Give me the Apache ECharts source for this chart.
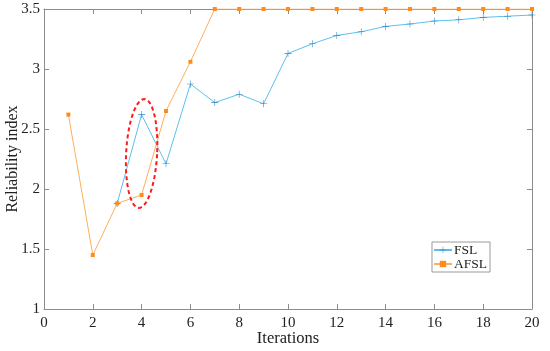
<!DOCTYPE html>
<html>
<head>
<meta charset="utf-8">
<script src="https://cdn.jsdelivr.net/npm/echarts@6/dist/echarts.min.js"></script>
<style>html,body{margin:0;padding:0;background:#fff}#c{width:550px;height:351px}</style>
</head>
<body>
<div id="c"></div>
<script>
const iterations = [1,2,3,4,5,6,7,8,9,10,11,12,13,14,15,16,17,18,19,20];
const fslValues = [null,null,1.88,2.62,2.21,2.875,2.72,2.79,2.71,3.13,3.21,3.28,3.31,3.355,3.375,3.40,3.41,3.43,3.44,3.45];
const afslValues = [2.62,1.45,1.88,1.95,2.65,3.06,3.5,3.5,3.5,3.5,3.5,3.5,3.5,3.5,3.5,3.5,3.5,3.5,3.5,3.5];
const xTicks = [0,2,4,6,8,10,12,14,16,18,20];
const yTicks = [1,1.5,2,2.5,3,3.5];
const highlight = {x: 4, y: 2.296, rx: 0.635, ry: 0.454};

const FONT = 'Liberation Serif';
const chart = echarts.init(document.getElementById('c'));
const plus = 'path://M4.6,0h0.8v4.6h4.6v0.8h-4.6v4.6h-0.8v-4.6h-4.6v-0.8h4.6z';
const axisCommon = {
  axisLine: {show: true, onZero: false, lineStyle: {color: '#8c8c8c', width: 1}},
  axisTick: {show: true, inside: true, length: 5, lineStyle: {color: '#8c8c8c'}},
  splitLine: {show: false}
};
chart.setOption({
  animation: false,
  grid: {left: 44, right: 18, top: 9, bottom: 42, containLabel: false, outerBoundsMode: 'none'},
  legend: {
    right: 60, top: 242,
    orient: 'vertical',
    itemWidth: 18, itemHeight: 8, itemGap: 0,
    padding: [1, 3, 1, 1],
    borderColor: '#9a9a9a', borderWidth: 1, borderRadius: 0,
    backgroundColor: '#fff',
    textStyle: {fontFamily: FONT, fontSize: 13.5, color: '#222', lineHeight: 14, padding: [0, 0, 0, -3]},
    data: ['FSL', 'AFSL']
  },
  xAxis: [
    Object.assign({type: 'value', min: xTicks[0], max: xTicks[xTicks.length-1], interval: 2,
      name: 'Iterations', nameLocation: 'middle', nameGap: 21, nameMoveOverlap: false,
      nameTextStyle: {fontFamily: FONT, fontSize: 16.5, color: '#222'},
      axisLabel: {fontFamily: FONT, fontSize: 15, color: '#222', margin: 7}}, axisCommon),
    Object.assign({type: 'value', position: 'top', min: 0, max: 20, interval: 2, axisLabel: {show: false}}, axisCommon)
  ],
  yAxis: [
    Object.assign({type: 'value', min: yTicks[0], max: yTicks[yTicks.length-1], interval: 0.5,
      name: 'Reliability index', nameLocation: 'middle', nameGap: 23, nameMoveOverlap: false,
      nameTextStyle: {fontFamily: FONT, fontSize: 16, color: '#222'},
      axisLabel: {fontFamily: FONT, fontSize: 15, color: '#222', margin: 4}}, axisCommon),
    Object.assign({type: 'value', position: 'right', min: 1, max: 3.5, interval: 0.5, axisLabel: {show: false}}, axisCommon)
  ],
  series: [
    {
      name: 'FSL', type: 'line',
      data: iterations.map((x, i) => [x, fslValues[i]]),
      symbol: plus, symbolSize: 7, showSymbol: true,
      lineStyle: {color: '#5cc0ec', width: 1},
      itemStyle: {color: '#2f86c8'},
      z: 2
    },
    {
      name: 'AFSL', type: 'line',
      data: iterations.map((x, i) => [x, afslValues[i]]),
      symbol: 'rect', symbolSize: 4, showSymbol: true,
      lineStyle: {color: '#ffae5c', width: 1},
      itemStyle: {color: '#ff8c1a'},
      z: 3
    },
    {
      type: 'custom', silent: true, z: 4,
      data: [[highlight.x, highlight.y]],
      renderItem: function (params, api) {
        const c = api.coord([highlight.x, highlight.y]);
        const s = api.size([highlight.rx, highlight.ry]);
        const pts = [];
        const th = 3 * Math.PI / 180;
        for (let k = 0; k <= 72; k++) {
          const t = k / 72 * Math.PI * 2;
          const ex = s[0] * Math.cos(t), ey = s[1] * Math.sin(t);
          pts.push([c[0] + ex * Math.cos(th) - ey * Math.sin(th), c[1] + ex * Math.sin(th) + ey * Math.cos(th)]);
        }
        return {type: 'polyline', shape: {points: pts},
          style: {stroke: '#ff1a1a', lineWidth: 2, lineDash: [4, 3], fill: null}};
      }
    }
  ]
});
</script>
</body>
</html>
